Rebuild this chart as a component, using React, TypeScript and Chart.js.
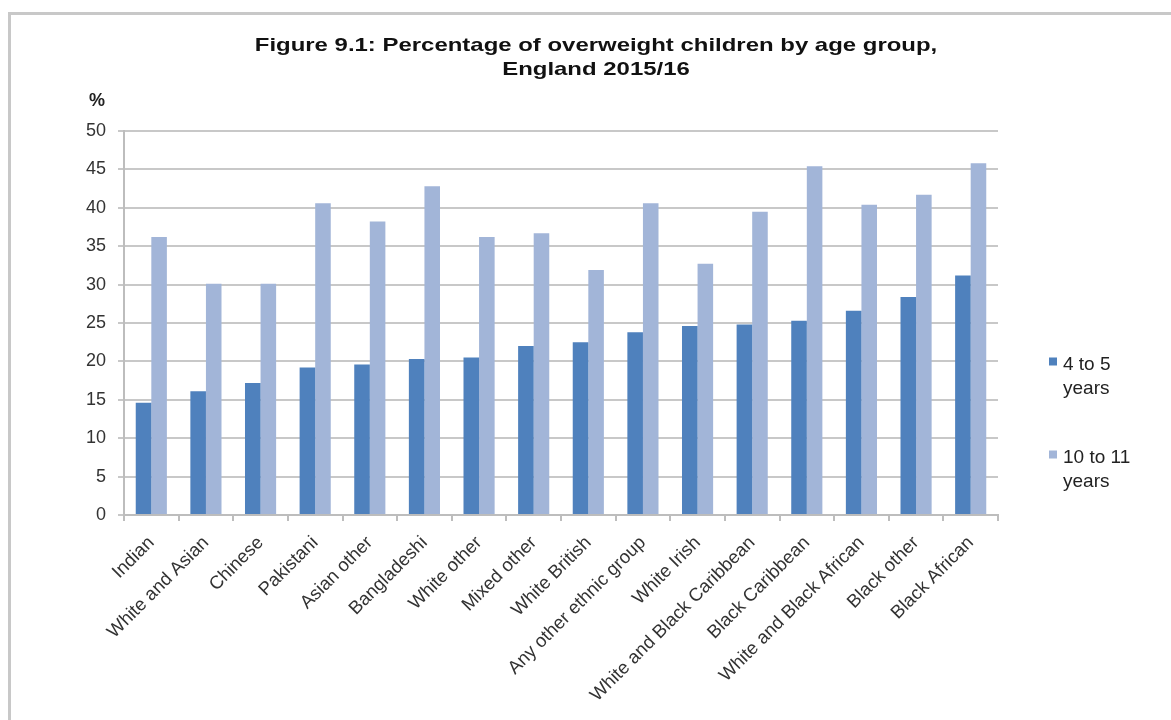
import React, { useEffect, useRef } from "react";
import { Chart, registerables } from "chart.js";

Chart.register(...registerables);

const categories = [
  "Indian",
  "White and Asian",
  "Chinese",
  "Pakistani",
  "Asian other",
  "Bangladeshi",
  "White other",
  "Mixed other",
  "White British",
  "Any other ethnic group",
  "White Irish",
  "White and Black Caribbean",
  "Black Caribbean",
  "White and Black African",
  "Black other",
  "Black African",
];

const age4to5 = [14.6, 16.1, 17.2, 19.2, 19.6, 20.3, 20.5, 22.0, 22.5, 23.8, 24.6, 24.8, 25.3, 26.6, 28.4, 31.2];
const age10to11 = [36.2, 30.1, 30.1, 40.6, 38.2, 42.8, 36.2, 36.7, 31.9, 40.6, 32.7, 39.5, 45.4, 40.4, 41.7, 45.8];

const seriesNames = [["4 to 5", "years"], ["10 to 11", "years"]];
const seriesColors = ["#4f81bd", "#a2b5d8"];
const titleLines = ["Figure 9.1: Percentage of overweight children by age group,", "England 2015/16"];
const yUnit = "%";

const FONT = "'Liberation Sans', Arial, sans-serif";

const decorPlugin = {
  id: "decor",
  afterDraw(chart: any) {
    const ctx = chart.ctx as CanvasRenderingContext2D;
    ctx.save();
    // title (reference text is drawn wide)
    ctx.save();
    ctx.translate(596, 0);
    ctx.scale(1.26, 1);
    ctx.fillStyle = "#111";
    ctx.font = `bold 19px ${FONT}`;
    ctx.textAlign = "center";
    ctx.textBaseline = "middle";
    ctx.fillText(titleLines[0], 0, 46);
    ctx.fillText(titleLines[1], 0, 70);
    ctx.restore();
    // unit label
    ctx.font = `bold 18px ${FONT}`;
    ctx.fillStyle = "#222";
    ctx.textAlign = "center";
    ctx.textBaseline = "middle";
    ctx.fillText(yUnit, 97, 101);
    // legend
    const items = [
      { y: 365, sq: 361.5 },
      { y: 458, sq: 454.5 },
    ];
    ctx.font = `19px ${FONT}`;
    ctx.textAlign = "left";
    items.forEach((it, i) => {
      ctx.fillStyle = seriesColors[i];
      ctx.fillRect(1049, it.sq - 4, 8, 8);
      ctx.fillStyle = "#222";
      seriesNames[i].forEach((line, j) => {
        ctx.fillText(line, 1063, it.y + j * 24);
      });
    });
    ctx.restore();
  },
};

export default function App() {
  const ref = useRef<HTMLCanvasElement>(null);

  useEffect(() => {
    if (!ref.current) return;
    const chart = new Chart(ref.current, {
      type: "bar",
      data: {
        labels: categories,
        datasets: [
          {
            label: seriesNames[0].join(" "),
            data: age4to5,
            backgroundColor: seriesColors[0],
            borderWidth: 0,
          },
          {
            label: seriesNames[1].join(" "),
            data: age10to11,
            backgroundColor: seriesColors[1],
            borderWidth: 0,
          },
        ],
      },
      options: {
        responsive: false,
        animation: false,
        devicePixelRatio: 1,
        layout: { padding: { left: 60, right: 173, top: 131, bottom: 0 } },
        plugins: {
          legend: { display: false },
          title: { display: false },
          tooltip: { enabled: false },
        },
        datasets: {
          bar: { barPercentage: 1, categoryPercentage: 0.57 },
        },
        scales: {
          x: {
            afterFit: (s: any) => {
              s.height = 205;
            },
            grid: {
              display: true,
              drawOnChartArea: false,
              drawTicks: true,
              tickLength: 6,
              color: "#bdbdbd",
              lineWidth: 2,
              offset: true,
            },
            border: { display: true, color: "#bdbdbd", width: 2 },
            ticks: {
              autoSkip: false,
              minRotation: 45,
              maxRotation: 45,
              color: "#333",
              padding: 11,
              font: { family: FONT, size: 18.5 },
            },
          },
          y: {
            min: 0,
            max: 50,
            afterFit: (s: any) => {
              s.width = 64;
            },
            grid: {
              color: "#c8c8c8",
              lineWidth: 2,
              tickLength: 6,
              drawTicks: true,
            },
            border: { display: true, color: "#bdbdbd", width: 2 },
            ticks: {
              stepSize: 5,
              color: "#333",
              padding: 12,
              font: { family: FONT, size: 18 },
            },
          },
        },
      },
      plugins: [decorPlugin],
    });
    return () => chart.destroy();
  }, []);

  return (
    <div style={{ position: "absolute", left: 0, top: 0, width: 1171, height: 720, overflow: "hidden", background: "#fff" }}>
      <div
        style={{
          position: "absolute",
          left: 8,
          top: 12,
          width: 1300,
          height: 900,
          border: "3px solid #c8c8c8",
          boxSizing: "border-box",
        }}
      />
      <canvas ref={ref} width={1171} height={720} style={{ position: "absolute", left: 0, top: 0, width: 1171, height: 720 }} />
    </div>
  );
}
